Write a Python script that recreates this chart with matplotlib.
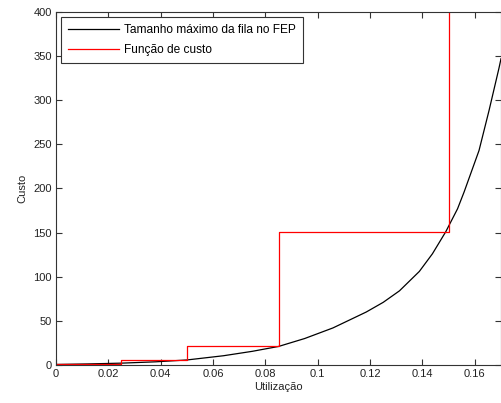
import matplotlib
matplotlib.use('Agg')
import matplotlib.pyplot as plt
from matplotlib.ticker import FuncFormatter

# black curve: max queue size
util = [0.0, 0.012, 0.025, 0.038, 0.05, 0.064, 0.075, 0.085, 0.095, 0.1058,
        0.1185, 0.125, 0.1312, 0.1388, 0.1438, 0.1489, 0.1534, 0.1559, 0.1616,
        0.1654, 0.1692, 0.17]
queue_size = [0.6, 1.2, 2.1, 3.6, 5.7, 10.5, 15.5, 21, 30, 42,
              60, 71, 84, 106, 126, 151, 177, 196, 243,
              288, 336, 347]

# red step: cost function
cost_x = [0, 0.025, 0.05, 0.085, 0.15]
cost_y = [1, 6, 22, 151, 500]

plt.rcParams['font.family'] = ['Liberation Sans', 'DejaVu Sans']

fig = plt.figure(figsize=(5.01, 4.03), dpi=100)
ax = fig.add_axes([0.1118, 0.0943, 0.8882, 0.8760])

ax.plot(util, queue_size, color='black', lw=0.9, label='Tamanho máximo da fila no FEP')
ax.step(cost_x, cost_y, where='post', color='red', lw=0.9, label='Função de custo')

ax.set_xlim(0, 0.17)
ax.set_ylim(0, 400)
ax.set_xticks([0, 0.02, 0.04, 0.06, 0.08, 0.1, 0.12, 0.14, 0.16])
ax.set_yticks(range(0, 401, 50))
ax.xaxis.set_major_formatter(FuncFormatter(lambda v, p: '0' if v == 0 else ('%g' % round(v, 2))))
ax.tick_params(direction='in', top=True, right=True, labelsize=8, length=4,
               color='#333333', labelcolor='#222222', pad=3)
for s in ax.spines.values():
    s.set_color('#333333')
    s.set_linewidth(0.8)

ax.set_xlabel('Utilização', fontsize=8, color='#222222', labelpad=2)
ax.set_ylabel('Custo', fontsize=8, color='#222222', labelpad=4)

leg = ax.legend(loc='upper left', fontsize=8.6, fancybox=False, framealpha=1,
                edgecolor='#333333', handlelength=4.3, handletextpad=0.4,
                borderaxespad=0.4, borderpad=0.6, labelspacing=0.7)
leg.get_frame().set_linewidth(0.8)

fig.savefig('out.png', dpi=100)
